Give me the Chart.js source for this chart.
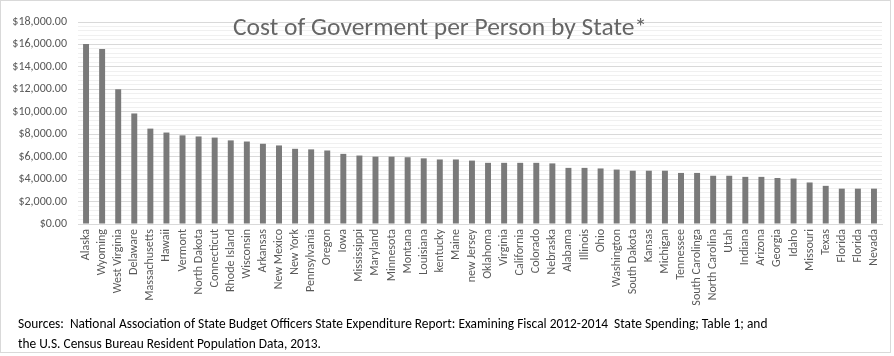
<!DOCTYPE html>
<html><head><meta charset="utf-8">
<script src="https://cdn.jsdelivr.net/npm/chart.js@4/dist/chart.umd.min.js"></script>
<style>html,body{margin:0;padding:0;background:#fff}#wrap{width:894px;height:356px;position:relative}</style>
</head><body><div id="wrap"><canvas id="c" width="894" height="356"></canvas></div>
<script>
const categories = ["Alaska","Wyoming","West Virginia","Delaware","Massachusetts","Hawaii","Vermont","North Dakota","Connecticut","Rhode Island","Wisconsin","Arkansas","New Mexico","New York","Pennsylvania","Oregon","Iowa","Mississippi","Maryland","Minnesota","Montana","Louisiana","kentucky","Maine","new Jersey","Oklahoma","Virginia","California","Colorado","Nebraska","Alabama","Illinois","Ohio","Washington","South Dakota","Kansas","Michigan","Tennessee","South Carolinga","North Carolina","Utah","Indiana","Arizona","Georgia","Idaho","Missouri","Texas","Florida","Florida","Nevada"];
const costPerPerson = [16050,15600,12000,9850,8500,8150,7900,7800,7700,7450,7350,7150,7000,6700,6650,6550,6250,6100,6000,6000,5950,5850,5750,5750,5650,5450,5450,5450,5450,5400,5000,5000,4950,4850,4750,4750,4750,4550,4550,4300,4300,4200,4200,4100,4050,3700,3400,3150,3150,3150];
const yTickValues = [0,2000,4000,6000,8000,10000,12000,14000,16000,18000];
const titleText = "Cost of Goverment per Person by State*";
const sourceLines = [
  "Sources:  National Association of State Budget Officers State Expenditure Report: Examining Fiscal 2012-2014  State Spending; Table 1; and",
  "the U.S. Census Bureau Resident Population Data, 2013."
];

const TICK_FONT = "'Carlito','Liberation Sans Narrow','Liberation Sans',sans-serif";
const textGrey = '#595959';

const overlay = {
  id: 'overlay',
  afterDraw(chart) {
    const ctx = chart.ctx;
    ctx.save();
    ctx.fillStyle = '#666666';
    ctx.textBaseline = 'alphabetic';
    ctx.textAlign = 'center';
    ctx.font = "300 25.5px 'Carlito','Lato','Open Sans',sans-serif";
    ctx.fillText(titleText, 440, 35);
    ctx.textAlign = 'left';
    ctx.fillStyle = '#000';
    ctx.font = "13.4px " + TICK_FONT;
    ctx.fillText(sourceLines[0], 18, 328);
    ctx.fillText(sourceLines[1], 18, 348);
    ctx.strokeStyle = '#d9d9d9';
    ctx.lineWidth = 1;
    ctx.strokeRect(0.5, 0.5, 890, 352);
    ctx.restore();
  }
};

new Chart(document.getElementById('c'), {
  type: 'bar',
  data: {
    labels: categories,
    datasets: [{
      data: costPerPerson,
      backgroundColor: '#7a7a7a',
      borderWidth: 0,
      barPercentage: 0.37,
      categoryPercentage: 1
    }]
  },
  options: {
    responsive: false,
    animation: false,
    devicePixelRatio: 1,
    layout: { padding: { top: 22, right: 12, left: 0, bottom: 0 } },
    plugins: { legend: { display: false }, title: { display: false }, tooltip: { enabled: false } },
    scales: {
      x: {
        grid: { display: false, drawTicks: false },
        border: { display: true, color: '#d9d9d9' },
        ticks: { color: textGrey, font: { family: TICK_FONT, size: 12 }, minRotation: 90, maxRotation: 90, autoSkip: false, padding: 5 },
        afterFit(scale) { scale.height = 132; }
      },
      y: {
        min: 0, max: yTickValues[yTickValues.length - 1],
        grid: {
          drawTicks: false,
          color(ctx) { return (ctx.tick && yTickValues.includes(ctx.tick.value)) ? '#d9d9d9' : '#f0f0f0'; },
          lineWidth: 1
        },
        border: { display: false },
        afterBuildTicks(scale) {
          const t = [];
          for (let v = 0; v <= yTickValues[yTickValues.length - 1]; v += 400) t.push({ value: v });
          scale.ticks = t;
        },
        ticks: {
          autoSkip: false,
          color: textGrey,
          padding: 11,
          font: { family: TICK_FONT, size: 12 },
          callback(v) {
            return yTickValues.includes(v) ? '$' + v.toLocaleString('en-US', { minimumFractionDigits: 2, maximumFractionDigits: 2 }) : '';
          }
        },
        afterFit(scale) { scale.width = 78; }
      }
    }
  },
  plugins: [overlay]
});
</script></body></html>
